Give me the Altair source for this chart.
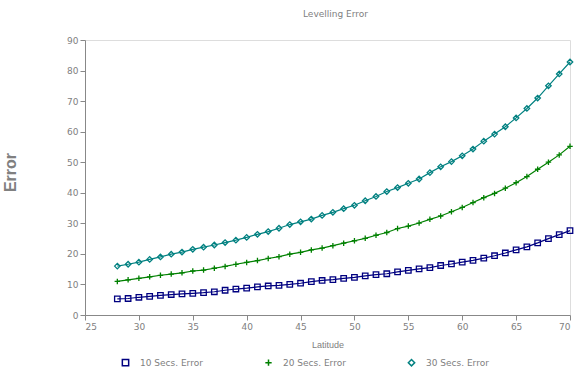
import altair as alt
import pandas as pd

latitude = list(range(28, 71))
err10 = [5.3, 5.4, 5.8, 6.1, 6.4, 6.7, 6.9, 7.1, 7.3, 7.6, 8.1, 8.5, 8.8, 9.2, 9.5,
         9.7, 10.0, 10.4, 10.9, 11.3, 11.6, 12.0, 12.3, 12.8, 13.2, 13.5, 14.1, 14.6,
         15.1, 15.5, 16.2, 16.7, 17.3, 17.9, 18.6, 19.4, 20.3, 21.3, 22.3, 23.6, 25.0,
         26.3, 27.6]
err20 = [11.0, 11.5, 12.0, 12.5, 13.0, 13.4, 13.8, 14.4, 14.7, 15.3, 15.9, 16.6, 17.2,
         17.8, 18.5, 19.1, 19.9, 20.5, 21.3, 21.9, 22.7, 23.5, 24.3, 25.1, 26.1, 27.0,
         28.3, 29.1, 30.1, 31.3, 32.4, 33.8, 35.2, 36.8, 38.4, 39.8, 41.5, 43.3, 45.3,
         47.7, 50.0, 52.4, 55.2]
err30 = [16.0, 16.6, 17.3, 18.2, 19.0, 19.9, 20.6, 21.5, 22.2, 22.9, 23.7, 24.5, 25.4,
         26.4, 27.3, 28.4, 29.6, 30.5, 31.4, 32.6, 33.6, 34.8, 35.9, 37.4, 38.8, 40.4,
         41.7, 43.1, 44.5, 46.6, 48.5, 50.2, 52.1, 54.3, 56.9, 59.2, 61.6, 64.5, 67.6,
         71.0, 75.0, 78.9, 82.8]
series_names = ["10 Secs. Error", "20 Secs. Error", "30 Secs. Error"]
colors = ["#000080", "#008000", "#008080"]
shapes = ["square", "M-1,0L1,0M0,-1L0,1", "diamond"]

rows = []
for name, vals in zip(series_names, [err10, err20, err30]):
    for lat, v in zip(latitude, vals):
        rows.append({"Latitude": lat, "Error": v, "Series": name})
df = pd.DataFrame(rows)

FONT = "DejaVu Sans"
GREY = "#808080"

x = alt.X("Latitude:Q", scale=alt.Scale(domain=[25, 70], nice=False),
          axis=alt.Axis(values=list(range(25, 71, 5)), title="Latitude",
                        grid=False, titleFontWeight="normal", titleFontSize=9,
                        titleColor=GREY, titlePadding=9, labelColor=GREY,
                        labelFontSize=9, labelFont=FONT))
y = alt.Y("Error:Q", scale=alt.Scale(domain=[0, 90], nice=False),
          axis=alt.Axis(values=list(range(0, 91, 10)), title="Error", grid=False,
                        titleX=-75, titleY=132, titleAngle=-90, titleFontSize=16,
                        titleFontWeight="bold", titleColor=GREY, titleAlign="center",
                        titleBaseline="middle", labelColor=GREY, labelFontSize=9,
                        labelFont=FONT))
legend = alt.Legend(title=None, orient="none", legendX=36, legendY=318,
                    direction="horizontal", columnPadding=59,
                    labelFontSize=9, labelColor=GREY, labelFont=FONT,
                    labelOffset=10, symbolSize=40, symbolStrokeWidth=1.5)
color = alt.Color("Series:N", scale=alt.Scale(domain=series_names, range=colors),
                  legend=legend)
shape = alt.Shape("Series:N", scale=alt.Scale(domain=series_names, range=shapes),
                  legend=legend)

lines = alt.Chart(df).mark_line(strokeWidth=1.2).encode(x=x, y=y, color=color, detail="Series:N")
points = alt.Chart(df).mark_point(filled=False, size=30, strokeWidth=1.3, opacity=1).encode(
    x=x, y=y, color=color, shape=shape)

chart = (lines + points).properties(
    width=485, height=275,
    title=alt.TitleParams("Levelling Error", fontSize=9, fontWeight="normal",
                          color=GREY, font=FONT, offset=17, dx=8),
    autosize=alt.AutoSizeParams(type="none"),
    padding={"left": 85, "top": 40, "right": 7, "bottom": 62},
).configure_view(strokeWidth=0, stroke=None).configure_axis(
    domainColor=GREY, tickColor=GREY, labelColor=GREY, labelFont=FONT, titleFont=FONT,
    labelFontSize=9, tickSize=7, labelPadding=5, domainWidth=1.5, tickWidth=1.5
).configure(background="white")

chart.save("out.html", embed_options={"renderer": "svg", "actions": False})
